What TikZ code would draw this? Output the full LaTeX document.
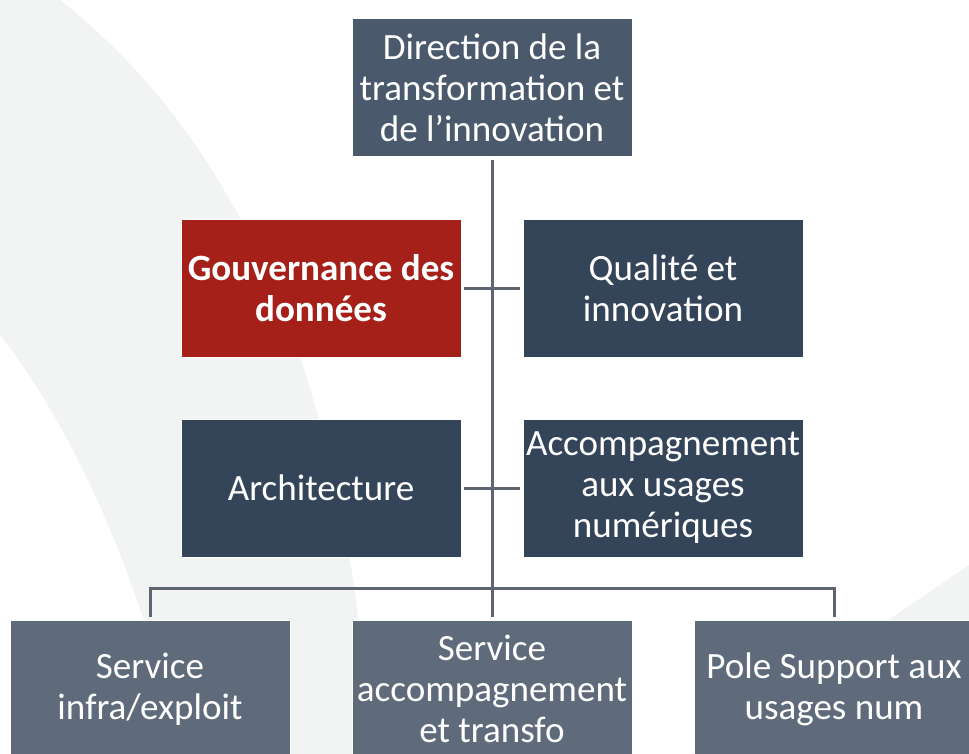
\documentclass[tikz,border=0pt]{standalone}
\usepackage{fontspec}
\setmainfont{Carlito}
\definecolor{bggray}{HTML}{F2F3F3}
\definecolor{topfill}{HTML}{4A596C}
\definecolor{midfill}{HTML}{344459}
\definecolor{redfill}{HTML}{A52019}
\definecolor{lowfill}{HTML}{5F6A7B}
\definecolor{linecol}{HTML}{5F6471}
\begin{document}
\begin{tikzpicture}[x=0.75pt,y=-0.75pt,
  orgbox/.style={rectangle, draw=white, line width=0.75pt, minimum width=210pt, minimum height=103.5pt,
    inner sep=0pt, align=center, text=white, font=\fontsize{27.8}{30.75}\selectfont},
  conn/.style={draw=linecol, line width=2.25pt}]
\clip (0,0) rectangle (969,753);
\fill[white] (0,0) rectangle (969,753);
% background swooshes
\fill[bggray] (0,0) -- (60,0) .. controls (250,150) and (350,400) .. (372,760)
  -- (180,760) .. controls (140,560) and (60,410) .. (0,335) -- cycle;
\fill[bggray] (969,565) -- (683,760) -- (969,760) -- cycle;
% nodes
\node[orgbox, fill=topfill] (top) at (492,87.5) {Direction de la\\transformation et\\de l’innovation};
\node[orgbox, fill=redfill, font=\fontsize{27.8}{30.75}\selectfont\bfseries] (gouv) at (321,288) {Gouvernance des\\données};
\node[orgbox, fill=midfill] (qual) at (663,288) {Qualité et\\innovation};
\node[orgbox, fill=midfill] (arch) at (321,488) {Architecture};
\node[orgbox, fill=midfill] (acc) at (663,488) {Accompagnement\\aux usages\\numériques};
\node[orgbox, fill=lowfill] (b1) at (150,689) {Service\\infra/exploit};
\node[orgbox, fill=lowfill] (b2) at (492,689) {Service\\accompagnement\\et transfo};
\node[orgbox, fill=lowfill] (b3) at (834,689) {Pole Support aux\\usages num};
% connectors
\coordinate (bar) at (492,588);
\draw[conn] ([yshift=-2pt]top.south) -- ([yshift=2pt]b2.north);
\draw[conn] ([xshift=2pt]gouv.east) -- ([xshift=-2pt]qual.west);
\draw[conn] ([xshift=2pt]arch.east) -- ([xshift=-2pt]acc.west);
\draw[conn] ([yshift=2pt]b1.north) |- (bar) -| ([yshift=2pt]b3.north);
\end{tikzpicture}
\end{document}
